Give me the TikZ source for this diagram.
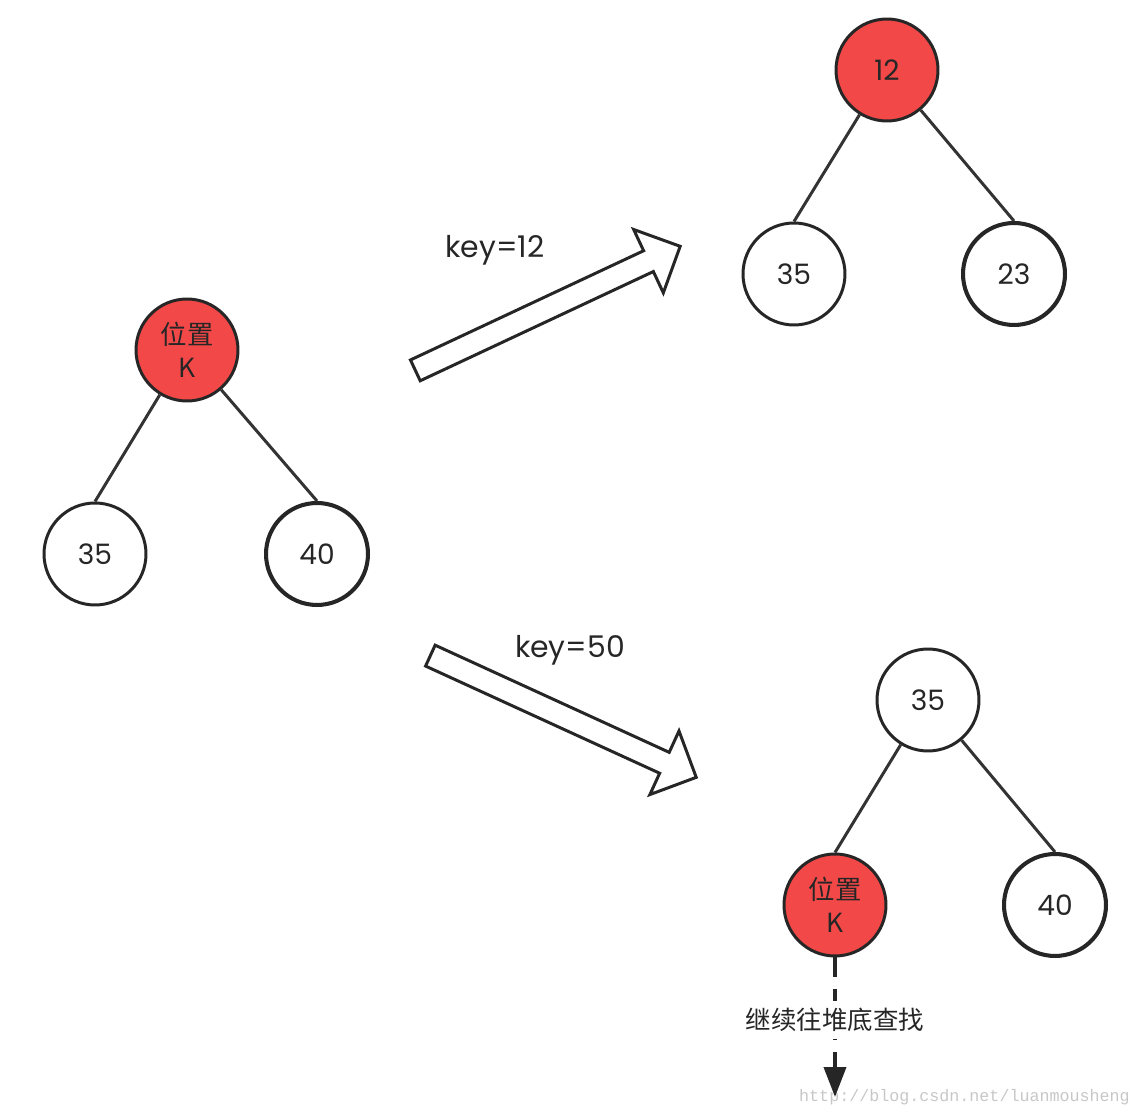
\documentclass[tikz,border=0pt]{standalone}
\usepackage{fontspec}
\setmainfont{Poppins}
\newfontfamily\cjk{Noto Sans CJK SC}
\newfontfamily\wmark{Liberation Mono}
\usetikzlibrary{arrows.meta, shapes.arrows}
\definecolor{heapred}{RGB}{242,72,72}

\begin{document}
\begin{tikzpicture}[
  x=0.02cm, y=-0.02cm,
  every node/.style = {font=\fontsize{16}{18}\selectfont, text=black!85},
  heapnode/.style = {draw=black!85, line width=1.7pt, circle, minimum size=2.04cm, inner sep=0pt, fill=white},
  heapnodebold/.style = {heapnode, line width=2.3pt},
  slotnode/.style = {heapnode, fill=heapred, align=center, font=\cjk\fontsize{15}{19}\selectfont},
  treeedge/.style = {line width=1.7pt, draw=black!80},
  shiftarrow/.style = {single arrow, draw=black!85, line width=1.7pt, fill=white, minimum height=5.85cm, single arrow head extend=0.47cm, inner xsep=0pt, inner ysep=0.2cm, anchor=tail},
  keylabel/.style = {font=\fontsize{17}{20}\selectfont},
  >=Latex
]
  \useasboundingbox (0,0) rectangle (1134,1118);

  % before: slot K with its two children
  \node[slotnode] (k) at (187,350) {位置\\K};
  \node[heapnode] (l35) at (95,554) {35};
  \node[heapnodebold] (l40) at (317,554) {40};
  \draw[treeedge] (k) -- (l35.north);
  \draw[treeedge] (k) -- (l40.north);

  % key=12 goes up
  \node[shiftarrow, rotate=25.1] (up) at (414,371) {};
  \node[keylabel] (lab12) at (495,250) {key=12};
  \node[heapnode, fill=heapred] (t12) at (887,70) {12};
  \node[heapnode] (t35) at (794,274) {35};
  \node[heapnodebold] (t23) at (1014,274) {23};
  \draw[treeedge] (t12) -- (t35.north);
  \draw[treeedge] (t12) -- (t23.north);

  % key=50 goes down
  \node[shiftarrow, rotate=-24.6] (down) at (429,655) {};
  \node[keylabel] (lab50) at (570,650) {key=50};
  \node[heapnode] (b35) at (928,700) {35};
  \node[slotnode] (bk) at (835,905) {位置\\K};
  \node[heapnodebold] (b40) at (1055,905) {40};
  \draw[treeedge] (b35) -- (bk.north);
  \draw[treeedge] (b35) -- (b40.north);

  \node[text=black!22, font=\wmark\fontsize{9.5}{11}\selectfont, anchor=west] (mark) at (793,1097) {http://blog.csdn.net/luanmousheng};
  \coordinate (bottom) at (835,1097);
  \draw[line width=2.2pt, draw=black!85, dash pattern=on 11pt off 7pt, -{Triangle[length=0.6cm, width=0.44cm]}]
    (bk) -- (bottom);
  \node[fill=white, inner xsep=2pt, inner ysep=4pt, font=\cjk\fontsize{14.5}{17}\selectfont] (hint) at (835,1020) {继续往堆底查找};
\end{tikzpicture}
\end{document}
